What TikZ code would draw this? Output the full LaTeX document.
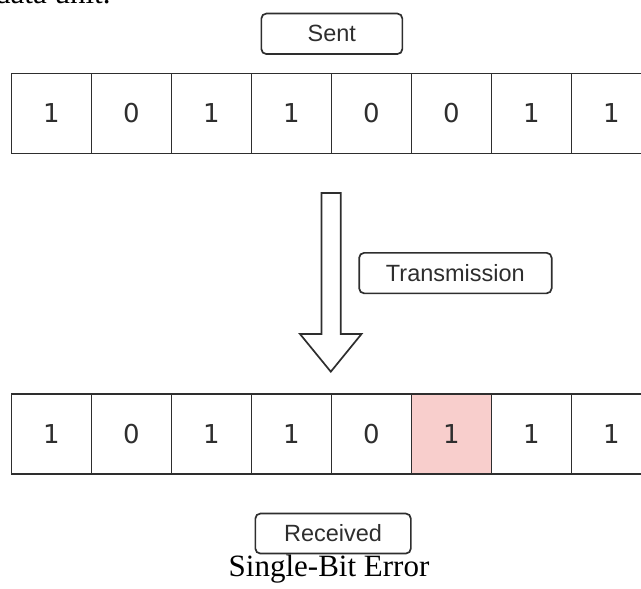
\documentclass[tikz,border=0pt]{standalone}
\usepackage{fontspec}
\setmainfont{Liberation Serif}
\setsansfont{Liberation Sans}
\newfontfamily\digitfont{DejaVu Sans}
\definecolor{edge}{HTML}{2E2E2E}
\definecolor{errfill}{HTML}{F8CECC}
\tikzset{
  bitcell/.style={draw=edge, line width=1.8pt, minimum width=80pt, minimum height=80pt, inner sep=0pt, anchor=north west, font=\digitfont\fontsize{26}{30}\selectfont, text=edge, fill=white},
  tag/.style={draw=edge, line width=1.7pt, rounded corners=5pt, inner sep=0pt, anchor=north west, font=\sffamily\fontsize{23.5}{27}\selectfont, text=edge},
}
\begin{document}
\begin{tikzpicture}[x=1pt,y=-1pt]
\useasboundingbox (0,0) rectangle (641,589);
\clip (0,0) rectangle (641,589);
% cut-off running text above
\node[anchor=base west, inner sep=0pt, font=\fontsize{31}{36}\selectfont] (runtext) at (-5,4) {data unit.};
% Sent label
\node[tag, minimum width=141pt, minimum height=40.5pt] (sent) at (260.5,12.7) {Sent};
% sent row
\foreach \b [count=\i] in {1,0,1,1,0,0,1,1} {
  \node[bitcell] (s\i) at ({10.5+80*(\i-1)},72.5) {\b};
}
% transmission arrow
\draw[draw=edge, line width=1.7pt, fill=white, line join=miter]
  (321.5,193) -- (340.7,193) -- (340.7,334) -- (361.5,334) -- (330.8,371.7)
  -- (300,334) -- (321.5,334) -- cycle;
\node[tag, minimum width=192.5pt, minimum height=40.5pt] (trans) at (358.3,252) {Transmission};
% received row
\foreach \b [count=\i] in {1,0,1,1,0,1,1,1} {
  \node[bitcell] (r\i) at ({10.5+80*(\i-1)},393) {\b};
}
\node[bitcell, fill=errfill] (r6) at (410.5,393) {1};
% Received label
\node[tag, minimum width=155.5pt, minimum height=40pt] (recv) at (254.5,512.7) {Received};
% caption
\node[anchor=base, inner sep=0pt, font=\fontsize{31}{36}\selectfont] (caption) at (329,576.5) {Single-Bit Error};
\end{tikzpicture}
\end{document}
